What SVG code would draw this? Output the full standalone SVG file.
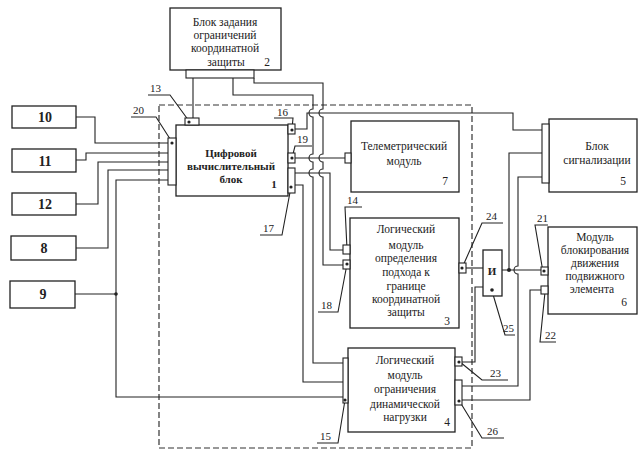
<svg xmlns="http://www.w3.org/2000/svg" width="638" height="453" viewBox="0 0 638 453">
<style>
.b{fill:#fff;stroke:#222;stroke-width:1.3}
.p{fill:#fff;stroke:#222;stroke-width:1.1}
.w{fill:none;stroke:#222;stroke-width:1.1}
.d{fill:none;stroke:#333;stroke-width:1.2;stroke-dasharray:6,3}
.dot{fill:#222}
.t{font-family:"Liberation Serif",serif;font-size:11.5px;fill:#222;text-anchor:middle}
.tb{font-family:"Liberation Serif",serif;font-size:11px;font-weight:bold;fill:#222;text-anchor:middle}
.n{font-family:"Liberation Serif",serif;font-size:14px;font-weight:bold;fill:#222;text-anchor:middle}
.lb{font-family:"Liberation Serif",serif;font-size:11px;fill:#222}
</style>
<rect width="638" height="453" fill="#fff"/>
<rect class="d" x="159" y="105" width="313" height="343"/>

<g id="connectors">
  <path class="w" d="M76,117 H95 V143 H168"/>
  <path class="w" d="M76,160 H86 V153 H168"/>
  <path class="w" d="M76,204 H98 V162 H168"/>
  <path class="w" d="M76,248 H108 V170 H168"/>
  <path class="w" d="M168,180 H116 V397 H343"/>
  <path class="w" d="M75,294 H116"/>
  <circle class="dot" cx="116" cy="294" r="1.8"/>
  <path class="w" d="M193,78 V118"/>
  <path class="w" d="M233,78 V95 H313 V109 A4,4 0 0 0 313,117 V154 A4,4 0 0 0 313,162 V169 A4,4 0 0 0 313,177 V363 H343"/>
  <path class="w" d="M254,78 V83 H323 V109 A4,4 0 0 0 323,117 V154 A4,4 0 0 0 323,162 V169 A4,4 0 0 0 323,177 V265 H343"/>
  <path class="w" d="M295,129 H307 V113 H513 V130 H542"/>
  <path class="w" d="M295,158 H345"/>
  <path class="w" d="M295,173 H330 V250 H343"/>
  <path class="w" d="M295,185 H303 V382 H343"/>
  <path class="w" d="M466,268 H483"/>
  <path class="w" d="M462,362 H475 V287 H483"/>
  <path class="w" d="M502,270 H541"/>
  <path class="w" d="M542,153 H509 V270"/>
  <circle class="dot" cx="509" cy="270" r="2"/>
  <path class="w" d="M542,177 H518 V266 A4,4 0 0 0 518,274 V386 H462"/>
  <path class="w" d="M541,290 H530 V400 H462"/>
  <path class="w" d="M148,95 H170 L189,121"/>
  <path class="w" d="M131,117 H156 L172,142"/>
  <path class="w" d="M274,118 H293 L292,129"/>
  <path class="w" d="M312,146 H295 L292,158"/>
  <path class="w" d="M260,235 H282 L291,187"/>
  <path class="w" d="M362,207 H345 L347,249"/>
  <path class="w" d="M318,312 H338 L347,264"/>
  <path class="w" d="M317,443 H338 L345,400"/>
  <path class="w" d="M503,223 H482 L462,268"/>
  <path class="w" d="M508,380 H482 L460,362"/>
  <path class="w" d="M504,438 H482 L460,402"/>
  <path class="w" d="M515,335 H505 L492,291"/>
  <path class="w" d="M548,225 H535 L543,272"/>
  <path class="w" d="M556,342 H540 L545,292"/>
</g>

<g id="labels">
  <text class="lb" x="150" y="92">13</text>
  <text class="lb" x="133" y="114">20</text>
  <text class="lb" x="277" y="116">16</text>
  <text class="lb" x="297" y="143">19</text>
  <text class="lb" x="263" y="232">17</text>
  <text class="lb" x="347" y="204">14</text>
  <text class="lb" x="321" y="309">18</text>
  <text class="lb" x="320" y="440">15</text>
  <text class="lb" x="486" y="220">24</text>
  <text class="lb" x="490" y="377">23</text>
  <text class="lb" x="487" y="435">26</text>
  <text class="lb" x="503" y="332">25</text>
  <text class="lb" x="537" y="222">21</text>
  <text class="lb" x="545" y="339">22</text>
</g>

<g id="node10"><rect class="b" x="12" y="106" width="64" height="22"/><text class="n" x="45" y="122">10</text></g>
<g id="node11"><rect class="b" x="12" y="149" width="64" height="23"/><text class="n" x="45" y="166">11</text></g>
<g id="node12"><rect class="b" x="12" y="193" width="64" height="22"/><text class="n" x="45" y="209">12</text></g>
<g id="node8"><rect class="b" x="11" y="236" width="65" height="24"/><text class="n" x="44" y="253">8</text></g>
<g id="node9"><rect class="b" x="10" y="281" width="65" height="27"/><text class="n" x="43" y="299">9</text></g>

<g id="node2">
  <rect class="b" x="170" y="8" width="111" height="62"/>
  <rect class="p" x="186" y="70" width="68" height="8"/>
  <text class="t" x="225" y="26">Блок задания</text>
  <text class="t" x="225" y="39">ограничений</text>
  <text class="t" x="225" y="52">координатной</text>
  <text class="t" x="226" y="66">защиты</text>
  <text class="t" x="267" y="66">2</text>
</g>

<g id="node1">
  <rect class="b" x="176" y="125" width="112" height="71"/>
  <rect class="p" x="185" y="118" width="14" height="7"/>
  <circle class="dot" cx="189" cy="122" r="1.6"/>
  <rect class="p" x="168" y="138" width="8" height="47"/>
  <circle class="dot" cx="172" cy="143" r="1.6"/>
  <rect class="p" x="288" y="124" width="7" height="10"/>
  <circle class="dot" cx="292" cy="130" r="1.6"/>
  <rect class="p" x="288" y="153" width="7" height="10"/>
  <circle class="dot" cx="292" cy="158" r="1.6"/>
  <rect class="p" x="288" y="168" width="7" height="25"/>
  <circle class="dot" cx="291" cy="187" r="1.6"/>
  <text class="tb" x="231" y="157">Цифровой</text>
  <text class="tb" x="231" y="170">вычислительный</text>
  <text class="tb" x="231" y="183">блок</text>
  <text class="tb" x="274" y="188">1</text>
</g>

<g id="node7">
  <rect class="b" x="351" y="121" width="108" height="71"/>
  <rect class="p" x="345" y="153" width="6" height="10"/>
  <text class="t" x="404" y="150">Телеметрический</text>
  <text class="t" x="404" y="165">модуль</text>
  <text class="t" x="445" y="185">7</text>
</g>

<g id="node3">
  <rect class="b" x="350" y="218" width="109" height="110"/>
  <rect class="p" x="343" y="245" width="7" height="9"/>
  <rect class="p" x="343" y="260" width="7" height="9"/>
  <circle class="dot" cx="347" cy="264" r="1.6"/>
  <rect class="p" x="459" y="263" width="7" height="10"/>
  <circle class="dot" cx="462" cy="268" r="1.6"/>
  <text class="t" x="406" y="233">Логический</text>
  <text class="t" x="406" y="249">модуль</text>
  <text class="t" x="406" y="262">определения</text>
  <text class="t" x="406" y="276">подхода к</text>
  <text class="t" x="406" y="290">границе</text>
  <text class="t" x="406" y="303">координатной</text>
  <text class="t" x="406" y="316">защиты</text>
  <text class="t" x="447" y="325">3</text>
</g>

<g id="node4">
  <rect class="b" x="348" y="348" width="107" height="84"/>
  <rect class="p" x="343" y="358" width="5" height="45"/>
  <circle class="dot" cx="345" cy="400" r="1.6"/>
  <rect class="p" x="455" y="357" width="7" height="9"/>
  <circle class="dot" cx="459" cy="362" r="1.6"/>
  <rect class="p" x="455" y="380" width="7" height="25"/>
  <circle class="dot" cx="459" cy="401" r="1.6"/>
  <text class="t" x="405" y="364">Логический</text>
  <text class="t" x="405" y="379">модуль</text>
  <text class="t" x="405" y="393">ограничения</text>
  <text class="t" x="405" y="408">динамической</text>
  <text class="t" x="405" y="421">нагрузки</text>
  <text class="t" x="447" y="426">4</text>
</g>

<g id="nodeAnd">
  <rect class="b" x="483" y="250" width="19" height="46"/>
  <circle class="dot" cx="492" cy="290" r="1.8"/>
  <text class="tb" x="492" y="275">И</text>
</g>

<g id="node5">
  <rect class="b" x="549" y="119" width="88" height="73"/>
  <rect class="p" x="542" y="124" width="7" height="59"/>
  <text class="t" x="597" y="150">Блок</text>
  <text class="t" x="597" y="164">сигнализации</text>
  <text class="t" x="623" y="185">5</text>
</g>

<g id="node6">
  <rect class="b" x="548" y="227" width="89" height="87"/>
  <rect class="p" x="541" y="267" width="7" height="8"/>
  <circle class="dot" cx="544" cy="271" r="1.6"/>
  <rect class="p" x="541" y="286" width="7" height="8"/>
  <text class="t" x="595" y="241">Модуль</text>
  <text class="t" x="595" y="254">блокирования</text>
  <text class="t" x="595" y="267">движения</text>
  <text class="t" x="595" y="280">подвижного</text>
  <text class="t" x="592" y="293">элемента</text>
  <text class="t" x="624" y="306">6</text>
</g>
</svg>
